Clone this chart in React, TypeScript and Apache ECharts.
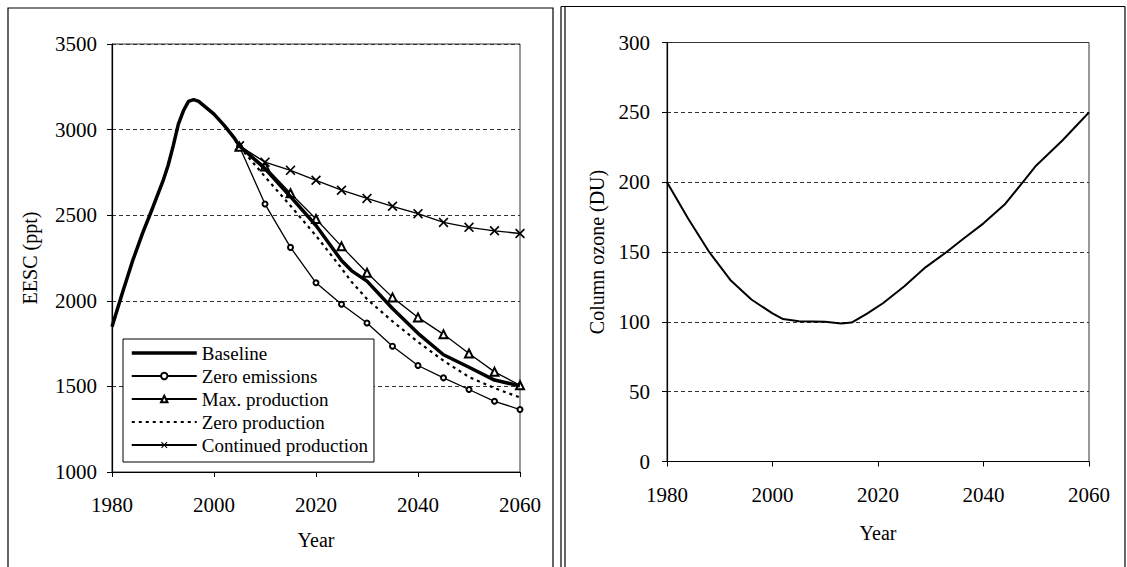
import React, { useEffect, useRef } from "react";
import * as echarts from "echarts";

const FONT = '"Times New Roman", "Liberation Serif", serif';

const seriesNames = [
  "Baseline",
  "Zero emissions",
  "Max. production",
  "Zero production",
  "Continued production",
];

const baselineYears = [1980, 1982, 1984, 1986, 1988, 1990, 1991, 1992, 1993, 1994, 1995, 1996, 1997, 1998, 2000, 2002, 2004, 2005, 2010, 2015, 2020, 2025, 2027, 2030, 2035, 2040, 2045, 2050, 2055, 2060];
const baselineValues = [1848, 2043, 2230, 2395, 2545, 2700, 2790, 2905, 3030, 3110, 3165, 3175, 3165, 3140, 3090, 3025, 2950, 2905, 2772, 2608, 2440, 2235, 2175, 2115, 1955, 1810, 1685, 1612, 1537, 1503];

const scenarioYears = [2005, 2010, 2015, 2020, 2025, 2030, 2035, 2040, 2045, 2050, 2055, 2060];
const zeroEmissions = [2900, 2565, 2312, 2105, 1980, 1870, 1735, 1622, 1550, 1482, 1413, 1365];
const maxProduction = [2900, 2785, 2628, 2478, 2318, 2164, 2020, 1903, 1804, 1692, 1585, 1507];
const continuedProduction = [2905, 2810, 2762, 2704, 2646, 2598, 2552, 2509, 2458, 2429, 2409, 2393];

const zeroProdYears = [2005, 2010, 2015, 2020, 2025, 2027, 2030, 2035, 2040, 2045, 2050, 2055, 2060];
const zeroProduction = [2900, 2725, 2555, 2380, 2190, 2110, 2010, 1880, 1760, 1650, 1555, 1490, 1435];

const ozoneYears = [1980, 1984, 1988, 1992, 1996, 2000, 2002, 2005, 2010, 2013, 2015, 2018, 2021, 2025, 2029, 2033, 2036, 2040, 2044, 2048, 2050, 2055, 2058, 2060];
const ozoneValues = [200, 174, 150, 130, 116, 106, 102, 100.5, 100, 98.8, 99.5, 106, 113.5, 125.5, 139, 150, 159, 170.5, 184, 202.5, 212, 230, 242, 250];

const eescTicks = { min: 1000, max: 3500, interval: 500 };
const ozoneTicks = { min: 0, max: 300, interval: 50 };
const yearTicks = { min: 1980, max: 2060, interval: 20 };

const zip = (xs: number[], ys: number[]) => xs.map((x, i) => [x, ys[i]]);

const CROSS = "path://M0,1.2L1.2,0L5,3.8L8.8,0L10,1.2L6.2,5L10,8.8L8.8,10L5,6.2L1.2,10L0,8.8L3.8,5Z";

export default function App() {
  const ref = useRef<HTMLDivElement>(null);
  useEffect(() => {
    if (!ref.current) return;
    const chart = echarts.init(ref.current, null, { renderer: "svg" });
    const nameText = { fontFamily: FONT, fontSize: 20, color: "#000" };
    const tickText = { fontFamily: FONT, fontSize: 21, color: "#000" };
    const plain = (v: number) => String(v);
    const xAxisCommon = (gridIndex: number, labelMargin: number, nameGap: number) => ({
      type: "value",
      gridIndex,
      ...yearTicks,
      name: "Year",
      nameLocation: "middle",
      nameGap,
      nameTextStyle: nameText,
      axisLine: { show: true, lineStyle: { color: "#000", width: 1.2 } },
      axisTick: { show: true, length: 5, lineStyle: { color: "#000" } },
      axisLabel: { ...tickText, margin: labelMargin, formatter: plain },
      splitLine: { show: false },
    });
    const yAxisCommon = (gridIndex: number, ticks: any, name: string, nameGap: number, labelMargin: number) => ({
      type: "value",
      gridIndex,
      ...ticks,
      name,
      nameLocation: "middle",
      nameGap,
      nameTextStyle: nameText,
      axisLine: { show: true, lineStyle: { color: "#000", width: 1.2 } },
      axisTick: { show: true, length: 5, lineStyle: { color: "#000" } },
      axisLabel: { ...tickText, margin: labelMargin, formatter: plain },
      splitLine: { show: true, lineStyle: { color: "#333", width: 1, type: [4, 3] } },
    });
    const thin = { color: "#000", width: 1.3 };
    chart.setOption({
      animation: false,
      backgroundColor: "#fff",
      textStyle: { fontFamily: FONT },
      graphic: [
        { type: "rect", shape: { x: 8, y: 8, width: 545, height: 580 }, style: { fill: "none", stroke: "#000", lineWidth: 1.2 }, z: 100 },
        { type: "line", shape: { x1: 561, y1: 6.5, x2: 561, y2: 567 }, style: { stroke: "#000", lineWidth: 1.2 }, z: 100 },
        { type: "line", shape: { x1: 565, y1: 6.5, x2: 565, y2: 567 }, style: { stroke: "#000", lineWidth: 1.2 }, z: 100 },
        { type: "line", shape: { x1: 561, y1: 6.5, x2: 1125, y2: 6.5 }, style: { stroke: "#000", lineWidth: 1.2 }, z: 100 },
        { type: "line", shape: { x1: 1125, y1: 6.5, x2: 1125, y2: 567 }, style: { stroke: "#000", lineWidth: 1.2 }, z: 100 },
      ],
      grid: [
        { left: 112, top: 44, width: 408, height: 428, show: true, borderColor: "#333", borderWidth: 1 },
        { left: 667, top: 42.5, width: 422, height: 419, show: true, borderColor: "#333", borderWidth: 1 },
      ],
      xAxis: [xAxisCommon(0, 22, 58), xAxisCommon(1, 23, 61)],
      yAxis: [
        yAxisCommon(0, eescTicks, "EESC (ppt)", 72, 15),
        yAxisCommon(1, ozoneTicks, "Column ozone (DU)", 60, 17),
      ],
      legend: {
        orient: "vertical",
        left: 123,
        top: 339,
        data: [
          { name: seriesNames[0], itemStyle: { opacity: 0 }, lineStyle: { width: 3.5, color: "#000" } },
          { name: seriesNames[1] },
          { name: seriesNames[2] },
          { name: seriesNames[3], itemStyle: { opacity: 0 }, lineStyle: { width: 2, color: "#000", type: [3, 4] } },
          { name: seriesNames[4] },
        ],
        itemWidth: 65,
        itemHeight: 8,
        itemGap: 3,
        padding: [4, 6, 7, 7],
        borderColor: "#000",
        borderWidth: 1,
        backgroundColor: "#fff",
        selectedMode: false,
        textStyle: { fontFamily: FONT, fontSize: 19, color: "#000", lineHeight: 20 },
      },
      series: [
        {
          name: seriesNames[0], type: "line", xAxisIndex: 0, yAxisIndex: 0,
          data: zip(baselineYears, baselineValues), symbol: "none",
          lineStyle: { color: "#000", width: 3.5 }, itemStyle: { color: "#000" }, z: 5,
        },
        {
          name: seriesNames[1], type: "line", xAxisIndex: 0, yAxisIndex: 0,
          data: zip(scenarioYears, zeroEmissions), symbol: "emptyCircle", symbolSize: 5,
          lineStyle: thin, itemStyle: { color: "#000", borderColor: "#000", borderWidth: 2 },
        },
        {
          name: seriesNames[2], type: "line", xAxisIndex: 0, yAxisIndex: 0,
          data: zip(scenarioYears, maxProduction), symbol: "emptyTriangle", symbolSize: 8,
          lineStyle: thin, itemStyle: { color: "#000", borderColor: "#000", borderWidth: 1.3 },
        },
        {
          name: seriesNames[3], type: "line", xAxisIndex: 0, yAxisIndex: 0,
          data: zip(zeroProdYears, zeroProduction), symbol: "none",
          lineStyle: { color: "#000", width: 2.2, type: [3, 4] }, itemStyle: { color: "#000" },
        },
        {
          name: seriesNames[4], type: "line", xAxisIndex: 0, yAxisIndex: 0,
          data: zip(scenarioYears, continuedProduction), symbol: CROSS, symbolSize: 10,
          lineStyle: thin, itemStyle: { color: "#000" },
        },
        {
          name: "Column ozone", type: "line", xAxisIndex: 1, yAxisIndex: 1,
          data: zip(ozoneYears, ozoneValues), symbol: "none",
          lineStyle: { color: "#000", width: 2 }, itemStyle: { color: "#000" },
        },
      ],
    });
    return () => chart.dispose();
  }, []);
  return <div ref={ref} style={{ position: "absolute", left: 0, top: 0, width: 1127, height: 567 }} />;
}
